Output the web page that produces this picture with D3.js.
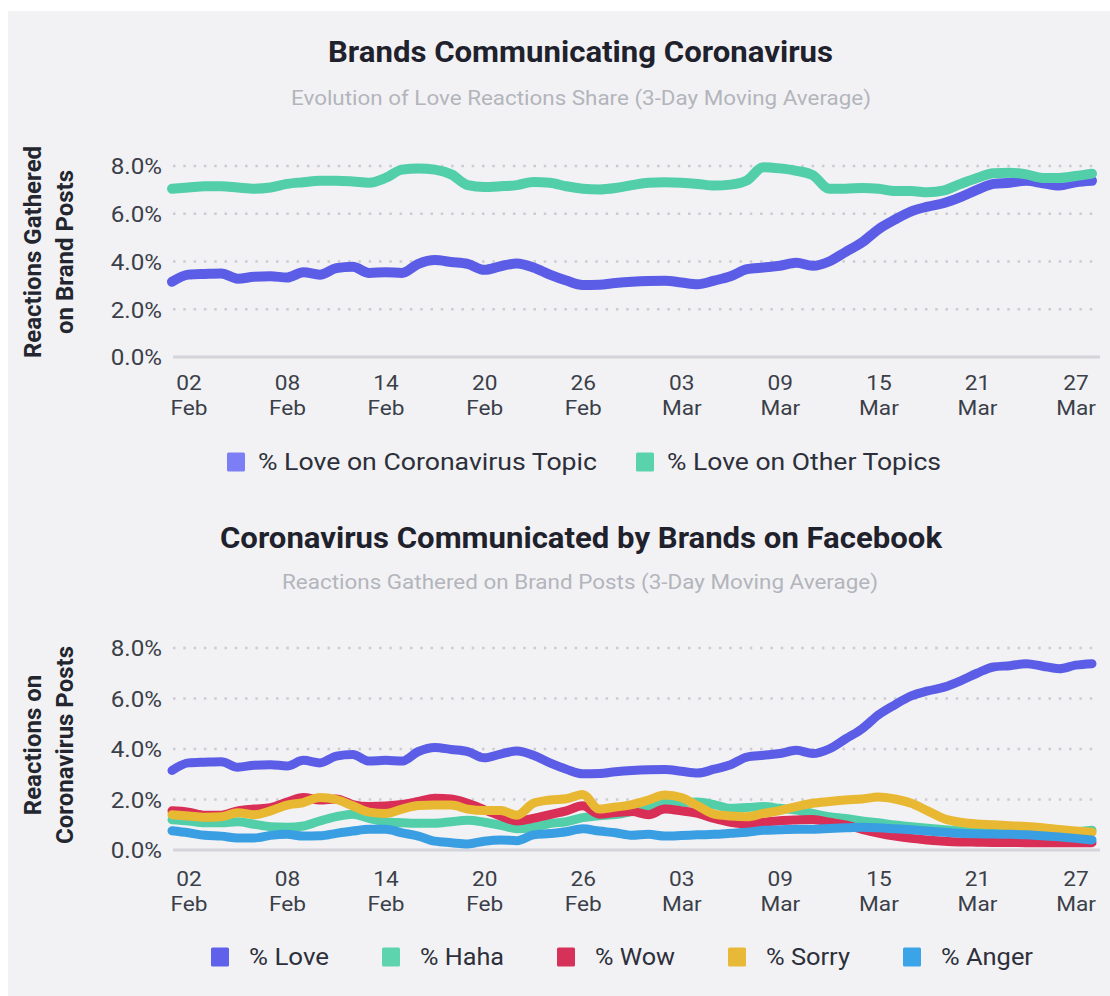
<!DOCTYPE html>
<html>
<head>
<meta charset="utf-8">
<script src="https://cdn.jsdelivr.net/npm/d3@7"></script>
<style>
  html, body { margin: 0; padding: 0; background: #ffffff; }
  svg { display: block; font-family: Roboto, "Noto Sans", "DejaVu Sans", sans-serif; }
</style>
</head>
<body>
<svg id="chart" width="1110" height="996"></svg>
<script>
// Daily observations, 1 Feb – 28 Mar 2020 (3-day moving averages, in %)
const dates = [
  "2020-02-01","2020-02-02","2020-02-03","2020-02-04","2020-02-05","2020-02-06","2020-02-07","2020-02-08","2020-02-09","2020-02-10",
  "2020-02-11","2020-02-12","2020-02-13","2020-02-14","2020-02-15","2020-02-16","2020-02-17","2020-02-18","2020-02-19","2020-02-20",
  "2020-02-21","2020-02-22","2020-02-23","2020-02-24","2020-02-25","2020-02-26","2020-02-27","2020-02-28","2020-02-29","2020-03-01",
  "2020-03-02","2020-03-03","2020-03-04","2020-03-05","2020-03-06","2020-03-07","2020-03-08","2020-03-09","2020-03-10","2020-03-11",
  "2020-03-12","2020-03-13","2020-03-14","2020-03-15","2020-03-16","2020-03-17","2020-03-18","2020-03-19","2020-03-20","2020-03-21",
  "2020-03-22","2020-03-23","2020-03-24","2020-03-25","2020-03-26","2020-03-27","2020-03-28"
];

// Share of Love reactions: coronavirus posts vs. all other brand posts
const loveCoronavirus = [
  3.15,3.45,3.48,3.50,3.28,3.36,3.38,3.33,3.55,3.45,
  3.72,3.78,3.52,3.55,3.52,3.90,4.06,3.98,3.90,3.65,
  3.80,3.92,3.75,3.45,3.20,3.02,3.03,3.10,3.15,3.18,
  3.19,3.12,3.05,3.20,3.38,3.68,3.75,3.82,3.95,3.82,
  4.00,4.40,4.80,5.35,5.75,6.10,6.30,6.45,6.70,7.00,
  7.25,7.30,7.38,7.28,7.18,7.32,7.38
];
const loveOther = [
  7.05,7.10,7.15,7.15,7.10,7.05,7.10,7.25,7.32,7.38,
  7.38,7.35,7.30,7.50,7.85,7.90,7.85,7.65,7.20,7.12,
  7.15,7.20,7.33,7.30,7.15,7.05,7.02,7.08,7.20,7.30,
  7.32,7.30,7.25,7.18,7.22,7.40,7.95,7.90,7.80,7.62,
  7.05,7.05,7.08,7.05,6.95,6.95,6.90,6.98,7.25,7.50,
  7.70,7.72,7.65,7.50,7.50,7.58,7.68
];

// Reactions on coronavirus posts by type
const haha = [
  1.20,1.15,1.08,1.08,1.12,1.02,0.92,0.90,0.95,1.15,
  1.32,1.42,1.25,1.12,1.08,1.06,1.06,1.12,1.18,1.10,
  0.98,0.84,0.90,1.05,1.12,1.28,1.36,1.40,1.52,1.62,
  1.85,1.88,1.90,1.80,1.65,1.68,1.72,1.65,1.58,1.45,
  1.32,1.25,1.15,1.08,0.99,0.92,0.86,0.80,0.76,0.72,
  0.69,0.68,0.66,0.66,0.68,0.72,0.78
];
const wow = [
  1.55,1.50,1.38,1.38,1.55,1.62,1.68,1.90,2.08,1.98,
  2.02,1.80,1.72,1.74,1.80,1.92,2.05,2.02,1.85,1.60,
  1.35,1.15,1.25,1.40,1.55,1.75,1.42,1.48,1.52,1.40,
  1.62,1.55,1.45,1.25,1.10,1.03,1.10,1.16,1.19,1.21,
  1.10,0.99,0.82,0.67,0.55,0.46,0.40,0.35,0.32,0.31,
  0.30,0.30,0.29,0.29,0.29,0.29,0.29
];
const sorry = [
  1.40,1.35,1.30,1.32,1.48,1.40,1.55,1.78,1.88,2.08,
  2.00,1.75,1.50,1.45,1.62,1.76,1.78,1.78,1.62,1.56,
  1.56,1.38,1.85,1.98,2.03,2.20,1.62,1.70,1.80,1.98,
  2.18,2.08,1.75,1.42,1.35,1.32,1.45,1.56,1.72,1.85,
  1.92,1.98,2.02,2.10,2.02,1.85,1.55,1.24,1.10,1.03,
  1.00,0.96,0.93,0.88,0.81,0.75,0.70
];
const anger = [
  0.76,0.68,0.58,0.55,0.48,0.48,0.58,0.62,0.55,0.56,
  0.66,0.75,0.82,0.82,0.68,0.55,0.35,0.29,0.24,0.35,
  0.40,0.37,0.60,0.65,0.72,0.84,0.75,0.68,0.58,0.62,
  0.55,0.57,0.60,0.62,0.66,0.70,0.78,0.80,0.82,0.82,
  0.85,0.88,0.90,0.88,0.84,0.80,0.75,0.70,0.66,0.64,
  0.63,0.62,0.60,0.56,0.52,0.46,0.40
];

// Axis ticks
const yTicks = [0, 2, 4, 6, 8];
const tickDates = ["2020-02-02","2020-02-08","2020-02-14","2020-02-20","2020-02-26","2020-03-03","2020-03-09","2020-03-15","2020-03-21","2020-03-27"];
const tickDays = ["02","08","14","20","26","03","09","15","21","27"];
const tickMonths = ["Feb","Feb","Feb","Feb","Feb","Mar","Mar","Mar","Mar","Mar"];

// Series definitions
const topSeries = [
  { name: "% Love on Coronavirus Topic", values: loveCoronavirus, color: "#5b5de7", swatch: "#7c7ef5" },
  { name: "% Love on Other Topics",      values: loveOther,       color: "#52cfa9", swatch: "#5ad3ad" }
];
const bottomSeries = [
  { name: "% Love",  values: loveCoronavirus, color: "#5b5de7", swatch: "#5f61ea" },
  { name: "% Haha",  values: haha,            color: "#52cfa9", swatch: "#5ed4ae" },
  { name: "% Wow",   values: wow,             color: "#d92f56", swatch: "#d63158" },
  { name: "% Sorry", values: sorry,           color: "#e8b833", swatch: "#e8b936" },
  { name: "% Anger", values: anger,           color: "#3a9fe2", swatch: "#3ba3e7" }
];

const parse = d3.utcParse("%Y-%m-%d");
const dateObjs = dates.map(parse);
const svg = d3.select("#chart");
const FONT = 'Roboto, "Noto Sans", sans-serif';

// Panel background
svg.append("rect").attr("x", 8).attr("y", 11).attr("width", 1102).attr("height", 985).attr("fill", "#f2f2f4");

const x = d3.scaleUtc().domain([dateObjs[0], dateObjs[dateObjs.length - 1]]).range([172, 1092]);

function headline(cx, y, text, size, weight, fill, len) {
  svg.append("text")
    .attr("x", cx).attr("y", y)
    .attr("text-anchor", "middle")
    .attr("font-family", FONT)
    .attr("font-size", size).attr("font-weight", weight)
    .attr("fill", fill)
    .attr("textLength", len).attr("lengthAdjust", "spacingAndGlyphs")
    .text(text);
}

function drawPanel(cfg) {
  const y = d3.scaleLinear().domain([0, 8]).range([cfg.bottom, cfg.top]);
  const g = svg.append("g");

  // Dotted grid lines
  g.selectAll("line.grid").data(yTicks.filter(d => d > 0)).join("line")
    .attr("class", "grid")
    .attr("x1", 173).attr("x2", 1100)
    .attr("y1", d => y(d)).attr("y2", d => y(d))
    .attr("stroke", "#cbcbd1").attr("stroke-width", 2.5)
    .attr("stroke-dasharray", "2.5 7.8");

  // Baseline
  g.append("line")
    .attr("x1", 173).attr("x2", 1100)
    .attr("y1", y(0)).attr("y2", y(0))
    .attr("stroke", "#d4d4da").attr("stroke-width", 3);

  // Y axis
  const ya = g.append("g").attr("transform", "translate(162,0)")
    .call(d3.axisLeft(y).tickValues(yTicks).tickFormat(d => d.toFixed(1) + "%").tickSize(0).tickPadding(0));
  ya.select(".domain").remove();
  ya.attr("font-family", FONT).attr("font-size", 22);
  ya.selectAll("text").attr("fill", "#3b3f4a").attr("dy", "0.36em")
    .attr("transform", "scale(1.1,1)");

  // X axis with two-line labels
  const xa = g.append("g").attr("transform", `translate(0,${cfg.bottom})`)
    .call(d3.axisBottom(x).tickValues(tickDates.map(parse)).tickSize(0).tickFormat(""));
  xa.select(".domain").remove();
  xa.selectAll(".tick text").remove();
  xa.selectAll(".tick").each(function (d, i) {
    const t = d3.select(this);
    t.append("text").attr("y", cfg.dayOffset).attr("text-anchor", "middle")
      .attr("font-family", FONT).attr("font-size", 21).attr("fill", "#3b3f4a")
      .attr("transform", "scale(1.08,1)").text(tickDays[i]);
    t.append("text").attr("y", cfg.dayOffset + 25).attr("text-anchor", "middle")
      .attr("font-family", FONT).attr("font-size", 21).attr("fill", "#3b3f4a")
      .attr("transform", "scale(1.08,1)").text(tickMonths[i]);
  });

  // Axis title (two lines, rotated)
  cfg.yTitle.forEach((line, i) => {
    svg.append("text")
      .attr("transform", `translate(${33 + i * 32},${cfg.titleCenter}) rotate(-90)`)
      .attr("text-anchor", "middle").attr("dominant-baseline", "central")
      .attr("font-family", FONT).attr("font-size", 24).attr("font-weight", 700)
      .attr("fill", "#23262f").text(line);
  });

  // Lines
  const line = d3.line()
    .x((d, i) => x(dateObjs[i]))
    .y(d => y(d))
    .curve(d3.curveMonotoneX);
  g.selectAll("path.series").data(cfg.series).join("path")
    .attr("class", "series")
    .attr("d", d => line(d.values))
    .attr("fill", "none")
    .attr("stroke", d => d.color)
    .attr("stroke-width", cfg.strokeWidth)
    .attr("stroke-linecap", "round")
    .attr("stroke-linejoin", "round");

  // Legend
  let lx = cfg.legend.start;
  cfg.series.forEach((s, i) => {
    const w = cfg.legend.widths[i];
    svg.append("rect")
      .attr("x", lx).attr("y", cfg.legend.y - 9.5)
      .attr("width", 18).attr("height", 19).attr("rx", 1.5)
      .attr("fill", s.swatch);
    svg.append("text")
      .attr("x", lx + cfg.legend.offset).attr("y", cfg.legend.y)
      .attr("dominant-baseline", "central")
      .attr("font-family", FONT).attr("font-size", 24).attr("fill", "#2d303b")
      .attr("textLength", w).attr("lengthAdjust", "spacingAndGlyphs")
      .text(s.name);
    lx += cfg.legend.offset + w + cfg.legend.gap;
  });
}

// Top chart
headline(580.5, 62, "Brands Communicating Coronavirus", 29, 700, "#1f222d", 505);
headline(581, 105, "Evolution of Love Reactions Share (3-Day Moving Average)", 20, 400, "#b3b5bc", 580);
drawPanel({
  top: 166, bottom: 357, series: topSeries, strokeWidth: 10,
  dayOffset: 33, yTitle: ["Reactions Gathered", "on Brand Posts"], titleCenter: 252,
  legend: { start: 227, y: 462, offset: 31, gap: 39, widths: [339, 274] }
});

// Bottom chart
headline(581, 548, "Coronavirus Communicated by Brands on Facebook", 29, 700, "#1f222d", 722);
headline(580, 589, "Reactions Gathered on Brand Posts (3-Day Moving Average)", 20, 400, "#b3b5bc", 596);
drawPanel({
  top: 648, bottom: 850, series: bottomSeries, strokeWidth: 9,
  dayOffset: 36, yTitle: ["Reactions on", "Coronavirus Posts"], titleCenter: 745,
  legend: { start: 211, y: 957, offset: 38, gap: 53, widths: [80, 84, 80, 84, 92] }
});
</script>
</body>
</html>
